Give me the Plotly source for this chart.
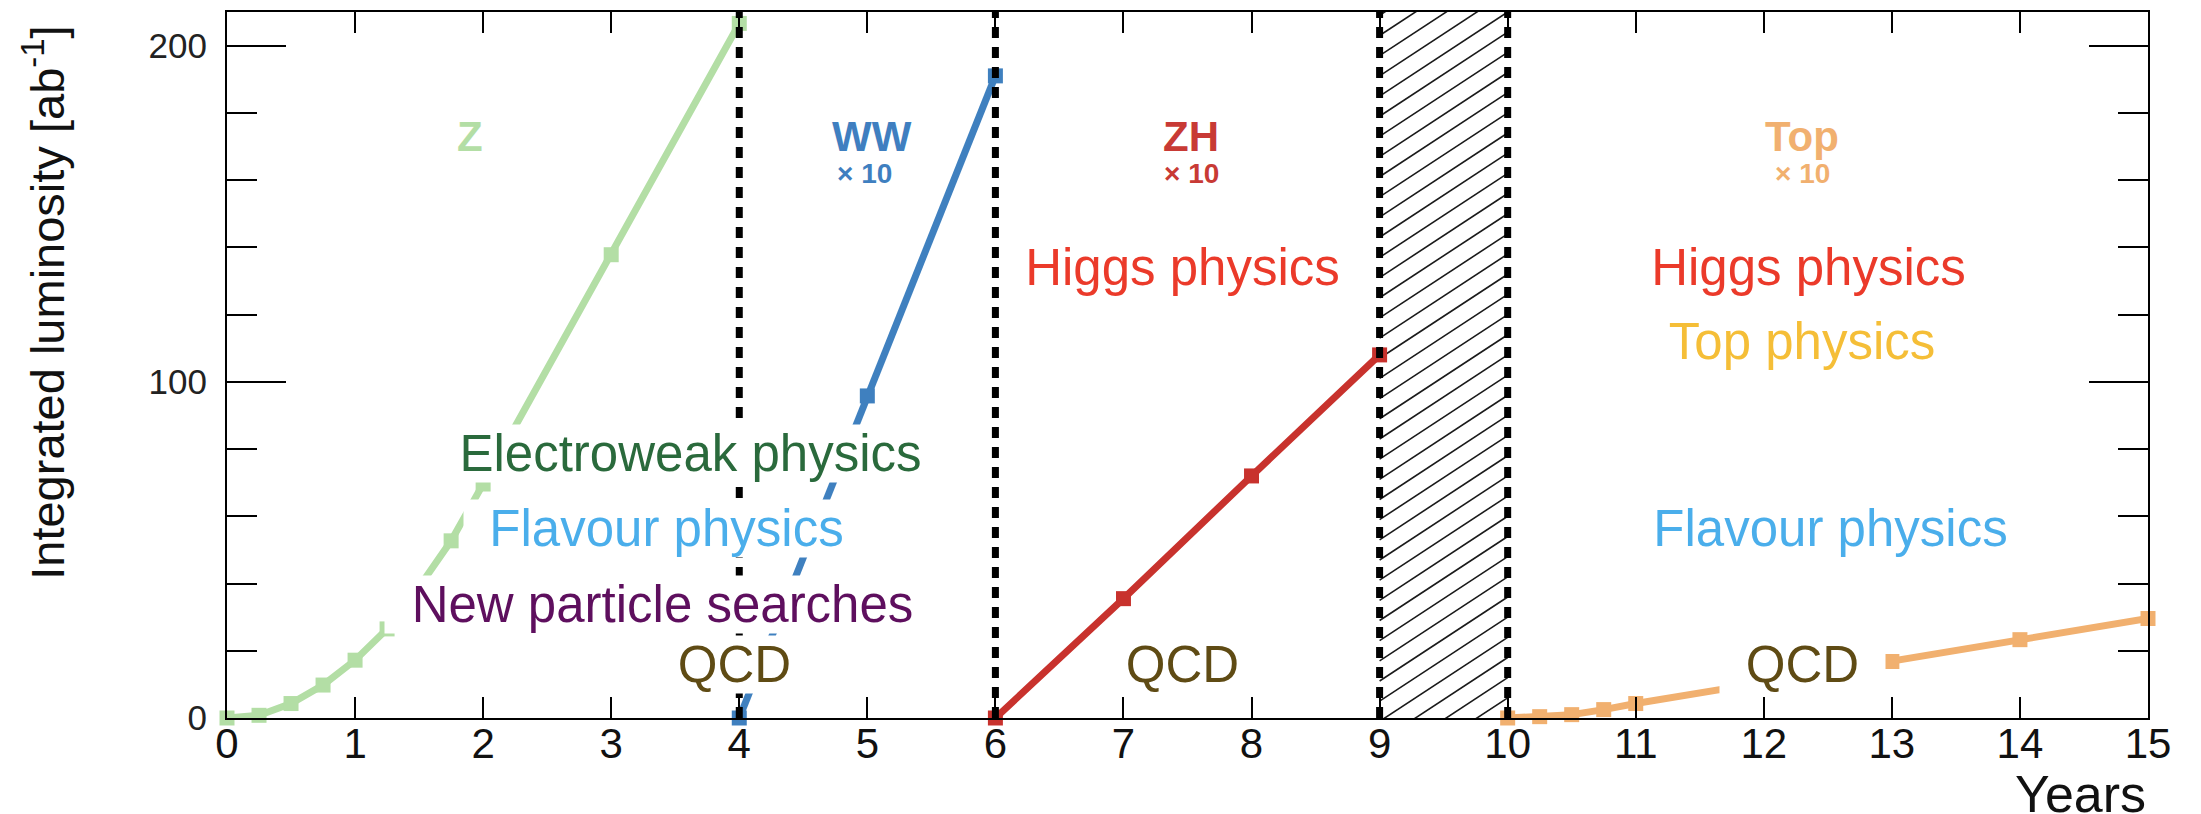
import plotly.graph_objects as go

# ---------------- data ----------------
z_years = [0, 0.25, 0.5, 0.75, 1, 1.25, 1.5, 1.75, 2, 3, 4]
z_lumi = [0, 0.8, 4.3, 9.8, 17.2, 26.5, 39, 52.7, 69.6, 137.8, 206.6]

ww_years = [4, 5, 6]
ww_lumi = [0, 95.8, 191]

zh_years = [6, 7, 8, 9]
zh_lumi = [0, 35.5, 72, 108]

top_years = [10, 10.25, 10.5, 10.75, 11, 12, 13, 14, 15]
top_lumi = [0, 0.4, 1.0, 2.5, 4.3, 10.6, 16.8, 23.3, 29.6]

run_boundaries = [4, 6, 9, 10]
shutdown = [9, 10]

x_ticks = list(range(0, 16))
y_ticks = [0, 100, 200]

# ---------------- styles ----------------
FONT = "Liberation Sans, Arial, sans-serif"
Y_MAX = 210
HATCH_RISE = 25      # hatch line rise (y units) across the shutdown year
HATCH_STEP = 6       # vertical spacing of hatch lines (y units)

series = [
    ("Z", z_years, z_lumi, "#b3dea5"),
    ("WW", ww_years, ww_lumi, "#3f80bf"),
    ("ZH", zh_years, zh_lumi, "#c8322d"),
    ("Top", top_years, top_lumi, "#f1b06f"),
]

fig = go.Figure()

# hatched shutdown period (diagonal lines, clipped to the plot area)
start = -HATCH_RISE
while start < Y_MAX:
    fig.add_shape(type="line", xref="x", yref="y",
                  x0=shutdown[0], x1=shutdown[1], y0=start, y1=start + HATCH_RISE,
                  line=dict(color="#1a1a1a", width=1.6), layer="below")
    start += HATCH_STEP

for name, xs, ys, col in series:
    fig.add_trace(go.Scatter(
        x=xs, y=ys, mode="lines+markers", name=name,
        line=dict(color=col, width=7),
        marker=dict(symbol="square", size=15, color=col),
        cliponaxis=False, showlegend=False))

for xb in run_boundaries:
    fig.add_shape(type="line", xref="x", yref="y", x0=xb, x1=xb, y0=0, y1=Y_MAX,
                  line=dict(color="black", width=7, dash="11px,9px"), layer="above")

ann = []

# run labels
run_labels = [
    ("<b>Z</b>", 1.90, 173, "#b3dea5", None),
    ("<b>WW</b>", 5.04, 173, "#3f7fc0", (4.98, 162)),
    ("<b>ZH</b>", 7.53, 173, "#c83a35", (7.53, 162)),
    ("<b>Top</b>", 12.30, 173, "#f1b06f", (12.30, 162)),
]
for txt, x, y, col, sub in run_labels:
    ann.append(dict(x=x, y=y, text=txt, showarrow=False,
                    font=dict(family=FONT, size=42, color=col)))
    if sub:
        ann.append(dict(x=sub[0], y=sub[1], text="<b>× 10</b>", showarrow=False,
                        font=dict(family=FONT, size=28, color=col)))

# physics labels (white boxes hide lines behind them)
phys = [
    ("Electroweak physics", 3.62, 78.7, "#2a6a3c", 515),
    ("Flavour physics", 3.43, 56.5, "#4aaeeb", 405),
    ("New particle searches", 3.40, 33.8, "#5e0f5e", 555),
    ("QCD", 3.96, 15.8, "#5f4b14", 165),
    ("Higgs physics", 7.46, 134, "#eb3a2a", 365),
    ("QCD", 7.46, 15.8, "#5f4b14", 165),
    ("Higgs physics", 12.35, 134, "#eb3a2a", 365),
    ("Top physics", 12.30, 112, "#f5be37", 320),
    ("Flavour physics", 12.52, 56.5, "#4aaeeb", 405),
    ("QCD", 12.30, 15.8, "#5f4b14", 165),
]
for txt, x, y, col, w in phys:
    ann.append(dict(x=x, y=y, text=txt, showarrow=False, bgcolor="white",
                    width=w, borderpad=0,
                    font=dict(family=FONT, size=51, color=col)))

# axis titles
ann.append(dict(xref="paper", yref="paper", x=-0.0953, y=0.588,
                text="Integrated luminosity [ab<sup>-1</sup>]", textangle=-90,
                showarrow=False, xanchor="center", yanchor="middle",
                font=dict(family=FONT, size=47, color="#111111")))
ann.append(dict(xref="paper", yref="paper", x=1.0, y=-0.107, text="Years",
                showarrow=False, xanchor="right", yanchor="middle",
                font=dict(family=FONT, size=52, color="#111111")))

# the page body adds an 8px margin, so the figure is shifted by 8px
fig.update_layout(
    width=2193, height=806,
    margin=dict(l=219, r=53, t=2, b=96),
    paper_bgcolor="white", plot_bgcolor="white",
    annotations=ann,
    font=dict(family=FONT),
)

fig.update_xaxes(range=[0, 15], tickvals=x_ticks, ticks="inside", ticklen=21,
                 tickwidth=2, tickcolor="black", showline=True, linewidth=2,
                 linecolor="black", mirror="ticks", showgrid=False, zeroline=False,
                 ticklabelstandoff=-12,
                 tickfont=dict(family=FONT, size=42, color="#111111"))
fig.update_yaxes(range=[0, Y_MAX], tickvals=y_ticks, ticks="inside", ticklen=59,
                 tickwidth=2, tickcolor="black", showline=True, linewidth=2,
                 linecolor="black", mirror="ticks", showgrid=False, zeroline=False,
                 ticklabelstandoff=11,
                 minor=dict(ticks="inside", ticklen=30, dtick=20, tick0=0,
                            tickwidth=2, tickcolor="black", showgrid=False),
                 tickfont=dict(family=FONT, size=35, color="#222222"))

fig.write_html("out.html")
